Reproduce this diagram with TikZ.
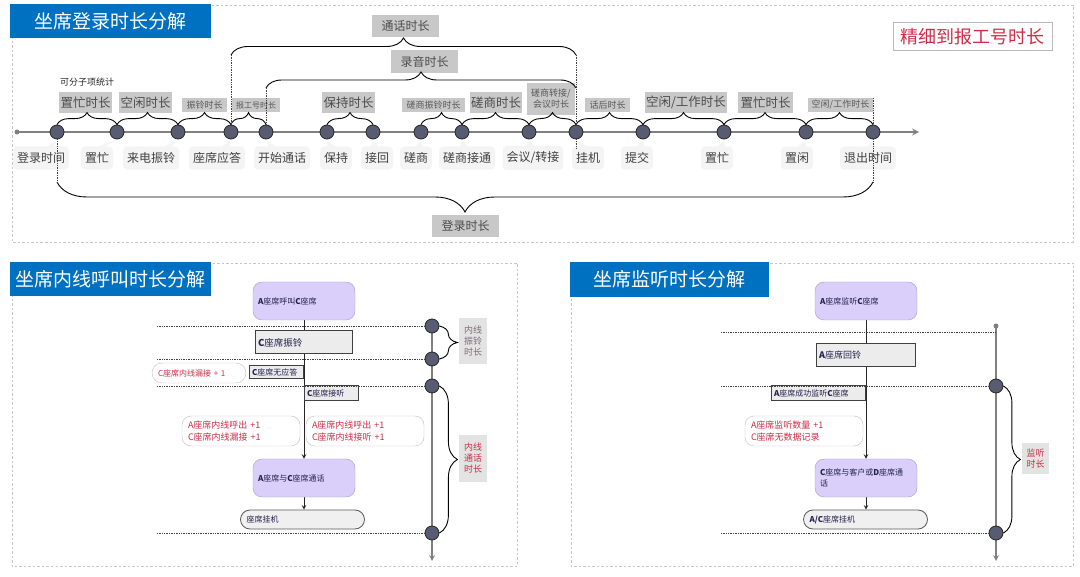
\documentclass[tikz,border=0pt]{standalone}
\usepackage{fontspec}
\setmainfont{Noto Sans CJK SC}
\setsansfont{Noto Sans CJK SC}
\usetikzlibrary{decorations.pathreplacing,shapes.callouts,backgrounds}

\definecolor{titleblue}{RGB}{0,112,192}
\definecolor{dotfill}{RGB}{88,92,114}
\definecolor{lavfill}{RGB}{217,207,250}
\definecolor{lavline}{RGB}{165,155,208}
\definecolor{tagred}{RGB}{206,44,70}
\definecolor{durgray}{RGB}{200,200,200}
\definecolor{inkblue}{RGB}{36,32,78}
\definecolor{axisgray}{RGB}{128,128,128}
\definecolor{mutedtext}{RGB}{125,108,118}

\newcommand{\pxfont}[2]{\fontsize{#1}{#2}\selectfont}

\tikzset{
  panel/.style={draw=gray!45, line width=0.6pt, dash pattern=on 2.5pt off 2pt},
  titlebox/.style={fill=titleblue, text=white, font=\pxfont{19}{21}, inner sep=0pt, anchor=north west},
  tdot/.style={circle, fill=dotfill, draw=black!85, line width=0.8pt, minimum size=14pt, inner sep=0pt},
  startdot/.style={circle, fill=axisgray, minimum size=5pt, inner sep=0pt},
  timeaxis/.style={draw=axisgray, line width=2pt, ->},
  tick/.style={rectangle callout, fill=gray!9, rounded corners=4pt, inner xsep=4pt, inner ysep=6pt, text=black!75, font=\pxfont{12}{14}},
  durbig/.style={fill=durgray, text=black!70, font=\pxfont{12.5}{14}, inner sep=0pt, minimum height=21pt},
  dursmall/.style={fill=durgray, text=black!65, font=\pxfont{9}{11}, inner sep=0pt, minimum height=14pt, align=center},
  durbrace/.style={decorate, decoration={brace, amplitude=#1}, draw=black, line width=0.9pt},
  guide/.style={densely dotted, draw=black!75, line width=0.7pt},
  event/.style={fill=lavfill, draw=lavline, rounded corners=9pt, text=inkblue, font=\pxfont{8}{10.5}, text width=92pt, align=left, minimum height=38pt, inner xsep=5pt},
  stage/.style={fill=gray!15, draw=black!75, line width=1pt, text=inkblue, font=\pxfont{8}{9}, inner xsep=3pt, inner ysep=0pt, align=left},
  tally/.style={fill=white, draw=gray!50, rounded corners=9pt, text=tagred, font=\pxfont{9}{12}, align=left, inner xsep=6pt, inner ysep=0pt},
  hangup/.style={fill=gray!12, draw=black!65, line width=0.8pt, rounded corners=9.5pt, text=inkblue, font=\pxfont{8}{9}, minimum height=19pt, text width=112pt, align=left, inner xsep=6pt, inner ysep=0pt},
  vlabel/.style={fill=gray!22, font=\pxfont{9}{11}, align=center, inner sep=0pt, minimum width=28pt},
  flow/.style={draw=black!85, line width=1pt},
}

\begin{document}
\begin{tikzpicture}[>=stealth, x=1pt, y=-1pt]
    % --- 参数定义 ---
    \def\ty{132}      % 登录时间轴高度
    \def\ly{158}      % 时间点标签高度
    \def\by{102.5}    % 大号时长标签高度
    \def\sy{105}      % 小号时长标签高度
    \useasboundingbox (0,0) rectangle (1080,577);

    % --- 1. 三个面板与标题 ---
    \draw[panel] (12,5) rectangle (1073,242);
    \draw[panel] (12,263) rectangle (517,566);
    \draw[panel] (571,263) rectangle (1073,566);
    \node[titlebox, minimum width=201pt, minimum height=34pt] (ttop) at (10,4) {坐席登录时长分解};
    \node[titlebox, minimum width=201pt, minimum height=34pt] (tleft) at (10,262) {坐席内线呼叫时长分解};
    \node[titlebox, minimum width=199pt, minimum height=35pt] (tright) at (570,262) {坐席监听时长分解};
    \node[draw=gray!55, line width=1pt, text=tagred, font=\pxfont{18}{20}, minimum width=159pt, minimum height=28pt, inner sep=0pt] (fine) at (972.5,37) {精细到报工号时长};

    % --- 2. 登录时间轴 ---
    \node[startdot] (t0) at (17,\ty) {};
    \coordinate (tEnd) at (919,\ty);
    \draw[timeaxis] (t0.center) -- (tEnd);

    \node[tdot] (t1) at (57,\ty) {};
    \node[tdot] (t2) at (117,\ty) {};
    \node[tdot] (t3) at (178,\ty) {};
    \node[tdot] (t4) at (231,\ty) {};
    \node[tdot] (t5) at (266,\ty) {};
    \node[tdot] (t6) at (327,\ty) {};
    \node[tdot] (t7) at (373,\ty) {};
    \node[tdot] (t8) at (421,\ty) {};
    \node[tdot] (t9) at (462,\ty) {};
    \node[tdot] (t10) at (529,\ty) {};
    \node[tdot] (t11) at (576,\ty) {};
    \node[tdot] (t12) at (643,\ty) {};
    \node[tdot] (t13) at (724,\ty) {};
    \node[tdot] (t14) at (806,\ty) {};
    \node[tdot] (t15) at (873,\ty) {};

    % 时间点名称 (带浅灰气泡)
    \node[tick, callout absolute pointer={(t1.south)}] (l1) at (41,\ly) {登录时间};
    \node[tick, callout absolute pointer={(t2.south)}] (l2) at (97,\ly) {置忙};
    \node[tick, callout absolute pointer={(t3.south)}] (l3) at (151,\ly) {来电振铃};
    \node[tick, callout absolute pointer={(t4.south)}] (l4) at (217,\ly) {座席应答};
    \node[tick, callout absolute pointer={(t5.south)}] (l5) at (282,\ly) {开始通话};
    \node[tick, callout absolute pointer={(t6.south)}] (l6) at (336,\ly) {保持};
    \node[tick, callout absolute pointer={(t7.south)}] (l7) at (377,\ly) {接回};
    \node[tick, callout absolute pointer={(t8.south)}] (l8) at (416,\ly) {磋商};
    \node[tick, callout absolute pointer={(t9.south)}] (l9) at (467,\ly) {磋商接通};
    \node[tick, callout absolute pointer={(t10.south)}] (l10) at (533,\ly) {会议/转接};
    \node[tick, callout absolute pointer={(t11.south)}] (l11) at (588,\ly) {挂机};
    \node[tick, callout absolute pointer={(t12.south)}] (l12) at (637,\ly) {提交};
    \node[tick, callout absolute pointer={(t13.south)}] (l13) at (717,\ly) {置忙};
    \node[tick, callout absolute pointer={(t14.south)}] (l14) at (797,\ly) {置闲};
    \node[tick, callout absolute pointer={(t15.south)}] (l15) at (868,\ly) {退出时间};

    % --- 3. 相邻时间点之间的分段时长 ---
    \node[font=\pxfont{9}{10}, text=black!85] (sub) at (87,82) {可分子项统计};
    \node[durbig, minimum width=53pt] (d1) at (85.5,\by) {置忙时长};
    \node[durbig, minimum width=53pt] (d2) at (145.5,\by) {空闲时长};
    \node[dursmall, minimum width=45pt] (d3) at (204.5,\sy) {振铃时长};
    \node[dursmall, minimum width=48pt, font=\pxfont{8}{10}] (d4) at (256,\sy) {报工号时长};
    \node[durbig, minimum width=53pt] (d5) at (348.5,\by) {保持时长};
    \node[dursmall, minimum width=63pt] (d6) at (433.5,\sy) {磋商振铃时长};
    \node[durbig, minimum width=52pt] (d7) at (496,\by) {磋商时长};
    \node[dursmall, minimum width=48pt, minimum height=32pt] (d8) at (551,99) {磋商转接/\\会议时长};
    \node[dursmall, minimum width=45pt] (d9) at (607.5,\sy) {话后时长};
    \node[durbig, minimum width=82pt] (d10) at (686,\by) {空闲/工作时长};
    \node[durbig, minimum width=55pt] (d11) at (765.5,\by) {置忙时长};
    \node[dursmall, minimum width=65pt] (d12) at (840.5,\sy) {空闲/工作时长};

    \draw[durbrace=12] (t1.north) -- (t2.north);
    \draw[durbrace=12] (t2.north) -- (t3.north);
    \draw[durbrace=12] (t3.north) -- (t4.north);
    \draw[durbrace=12] (t4.north) -- (t5.north);
    \draw[durbrace=12] (t6.north) -- (t7.north);
    \draw[durbrace=12] (t8.north) -- (t9.north);
    \draw[durbrace=12] (t9.north) -- (t10.north);
    \draw[durbrace=12] (t10.north) -- (t11.north);
    \draw[durbrace=12] (t11.north) -- (t12.north);
    \draw[durbrace=12] (t12.north) -- (t13.north);
    \draw[durbrace=12] (t13.north) -- (t14.north);
    \draw[durbrace=12] (t14.north) -- (t15.north);

    % --- 4. 通话、录音与登录总时长 ---
    \coordinate (thL) at (231,55);
    \coordinate (thR) at (576,55);
    \coordinate (lyL) at (266,88);
    \coordinate (lyR) at (576,88);
    \coordinate (dlL) at (57,182);
    \coordinate (dlR) at (873,182);
    \coordinate (gjB) at (576,148);
    \coordinate (tcT) at (873,98);

    \node[durbig, minimum width=67pt, minimum height=22pt, font=\pxfont{12}{14}] (call) at (405.5,26) {通话时长};
    \node[durbig, minimum width=67pt, minimum height=23pt, font=\pxfont{12}{14}] (rec) at (424.5,61.5) {录音时长};
    \node[durbig, minimum width=67pt, minimum height=22pt, font=\pxfont{12}{14}] (login) at (465.5,226) {登录时长};

    \draw[durbrace=17] (thL) -- (thR);
    \draw[durbrace=16] (lyL) -- (lyR);
    \draw[durbrace=30] (dlR) -- (dlL);

    \draw[guide] (thL) -- (t4.north);
    \draw[guide] (lyL) -- (t5.north);
    \draw[guide] (thR) -- (t11.north);
    \draw[guide] (t11.south) -- (gjB);
    \draw[guide] (tcT) -- (t15.north);
    \draw[guide] (t1.south) -- (dlL);
    \draw[guide] (t15.south) -- (dlR);

    % --- 5. 坐席内线呼叫流程 ---
    \node[event] (evA) at (304,301) {\textbf{A}座席呼叫\textbf{C}座席};
    \node[stage, text width=91pt, minimum height=23pt, font=\pxfont{9.5}{11}] (ring) at (303.5,342.5) {\textbf{C}座席振铃};
    \node[stage, text width=48pt, minimum height=13pt] (noans) at (276,372.5) {\textbf{C}座席无应答};
    \node[tally, text width=82pt, minimum height=20pt, rounded corners=10pt, font=\pxfont{8}{9}] (miss) at (199,373) {C座席内线漏接 + 1};
    \node[stage, text width=48pt, minimum height=15pt] (pick) at (331,393.5) {\textbf{C}座席接听};
    \node[tally, text width=106pt, minimum height=30pt] (tl1) at (241,431) {A座席内线呼出 +1\\C座席内线漏接 +1};
    \node[tally, text width=106pt, minimum height=30pt] (tl2) at (365,431) {A座席内线呼出 +1\\C座席内线接听 +1};
    \node[event] (evB) at (304,478) {\textbf{A}座席与\textbf{C}座席通话};
    \node[hangup] (hang) at (302.5,519.5) {座席挂机};

    \begin{scope}[on background layer]
        \draw[flow, ->] (evA.south) -- (evB.north);
        \draw[flow, ->] (evB.south) -- (evB.south |- hang.north);
    \end{scope}

    % 内线时间轴
    \coordinate (lTop) at (432,324);
    \coordinate (lEnd) at (432,561);
    \coordinate (gL) at (157,0);
    \draw[timeaxis, line width=1.6pt] (lTop) -- (lEnd);
    \node[tdot] (r1) at (432,326) {};
    \node[tdot] (r2) at (432,359) {};
    \node[tdot] (r3) at (432,386) {};
    \node[tdot] (r4) at (432,533) {};
    \draw[guide] (gL |- r1) -- (r1);
    \draw[guide] (gL |- r2) -- (r2);
    \draw[guide] (gL |- r3) -- (r3);
    \draw[guide] (gL |- r4) -- (r4);

    \draw[durbrace=18] (r1.east) -- (r2.east);
    \draw[durbrace=18] (r3.east) -- (r4.east);
    \node[vlabel, text=mutedtext, minimum height=46pt] (kv1) at (473,341.5) {内线\\振铃\\时长};
    \node[vlabel, text=tagred, minimum height=47pt] (kv2) at (473,458.5) {内线\\通话\\时长};

    % --- 6. 坐席监听流程 ---
    \node[event] (evC) at (866,301) {\textbf{A}座席监听\textbf{C}座席};
    \node[stage, text width=93pt, minimum height=23pt, font=\pxfont{9}{10}] (back) at (865.5,355.5) {\textbf{A}座席回铃};
    \node[stage, text width=88pt, minimum height=15pt] (okay) at (818,393.5) {\textbf{A}座席成功监听\textbf{C}座席};
    \node[tally, text width=106pt, minimum height=30pt] (tl3) at (804,431) {A座席监听数量 +1\\C座席无数据记录};
    \node[event] (evD) at (866,478) {\textbf{C}座席与客户或\textbf{D}座席通\\话};
    \node[hangup] (hang2) at (865.5,519.5) {\textbf{A/C}座席挂机};

    \begin{scope}[on background layer]
        \draw[flow, ->] (evC.south) -- (evD.north);
        \draw[flow, ->] (evD.south) -- (evD.south |- hang2.north);
    \end{scope}

    % 监听时间轴
    \node[startdot] (m0) at (996,326) {};
    \coordinate (mEnd) at (996,561);
    \coordinate (mMid) at (996,332);
    \coordinate (gR) at (721,0);
    \draw[timeaxis, line width=1.6pt] (m0.center) -- (mEnd);
    \node[tdot] (m1) at (996,386) {};
    \node[tdot] (m2) at (996,533) {};
    \draw[guide] (gR |- mMid) -- (mMid);
    \draw[guide] (gR |- m1) -- (m1);
    \draw[guide] (gR |- m2) -- (m2);

    \draw[durbrace=17] (m1.east) -- (m2.east);
    \node[vlabel, text=tagred, minimum width=27pt, minimum height=31pt] (kv3) at (1035.5,458.5) {监听\\时长};

\end{tikzpicture}
\end{document}
